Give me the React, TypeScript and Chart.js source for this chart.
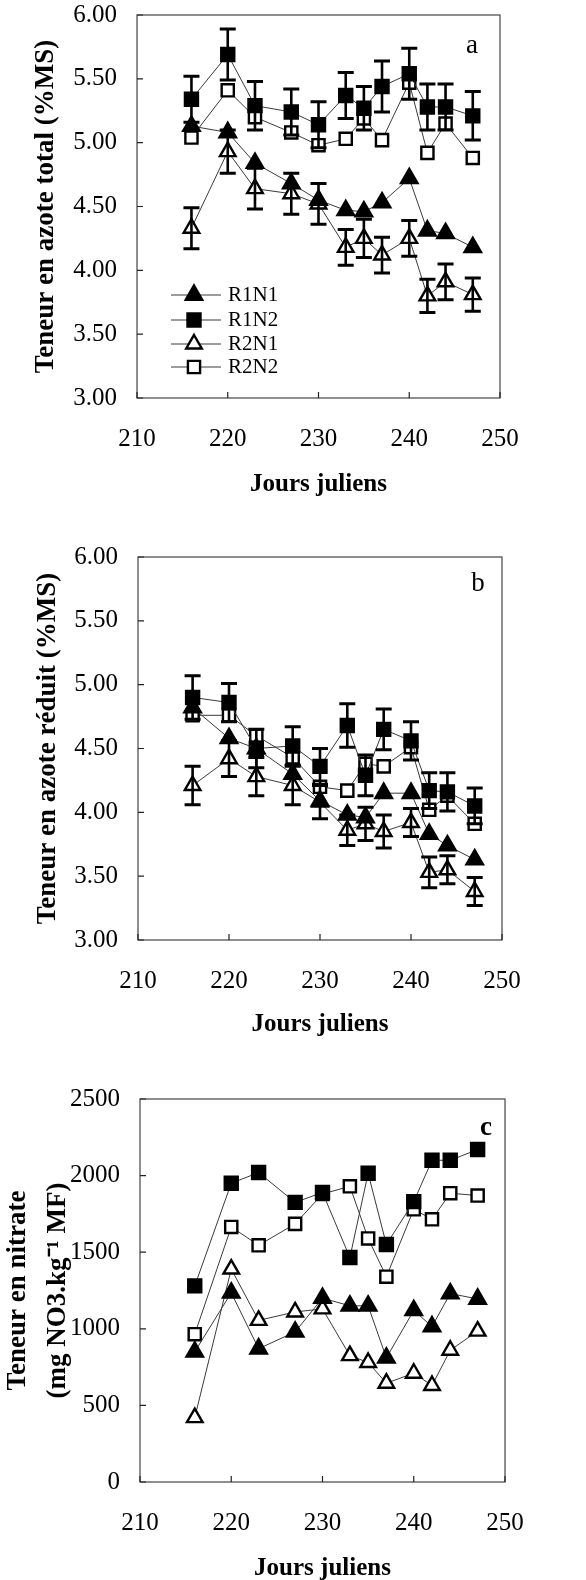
import React, { useEffect, useRef } from "react";
import { Chart, registerables } from "chart.js";
import { drawPoint } from "chart.js/helpers";

Chart.register(...registerables);

const FONT = "'Liberation Serif', 'Times New Roman', serif";

// ---------- DATA ----------
const days = [216, 220, 223, 227, 230, 233, 235, 237, 240, 242, 244, 247];
const seriesNames = ["R1N1", "R1N2", "R2N1", "R2N2"];
const xTickValues = [210, 220, 230, 240, 250];

// Panel a : Teneur en azote total (%MS)
const aR1N1 = [5.13, 5.08, 4.84, 4.68, 4.55, 4.47, 4.46, 4.53, 4.72, 4.31, 4.29, 4.18];
const aR1N2 = [5.34, 5.69, 5.29, 5.24, 5.14, 5.37, 5.27, 5.44, 5.54, 5.28, 5.28, 5.21];
const aR2N1 = [4.33, 4.93, 4.64, 4.6, 4.52, 4.18, 4.25, 4.12, 4.25, 3.8, 3.91, 3.81];
const aR2N2 = [5.04, 5.41, 5.2, 5.08, 4.98, 5.03, 5.19, 5.02, 5.47, 4.92, 5.15, 4.88];
const aErrR1N2 = [0.18, 0.2, 0.19, 0.18, 0.18, 0.18, 0.17, 0.2, 0.2, 0.18, 0.18, 0.19];
const aErrR2N1 = [0.16, 0.17, 0.16, 0.16, 0.16, 0.14, 0.15, 0.14, 0.14, 0.13, 0.14, 0.13];

// Panel b : Teneur en azote réduit (%MS)
const bR1N1 = [4.82, 4.58, 4.5, 4.3, 4.09, 3.98, 3.96, 4.15, 4.15, 3.83, 3.74, 3.63];
const bR1N2 = [4.9, 4.86, 4.5, 4.52, 4.36, 4.68, 4.29, 4.65, 4.56, 4.17, 4.16, 4.05];
const bR2N1 = [4.21, 4.42, 4.28, 4.21, 4.08, 3.86, 3.91, 3.85, 3.92, 3.53, 3.55, 3.38];
const bR2N2 = [4.76, 4.76, 4.6, 4.43, 4.2, 4.17, 4.38, 4.36, 4.51, 4.02, 4.13, 3.91];
const bErrR1N2 = [0.17, 0.15, 0.15, 0.15, 0.14, 0.17, 0.16, 0.16, 0.15, 0.14, 0.15, 0.14];
const bErrR2N1 = [0.15, 0.14, 0.15, 0.15, 0.13, 0.12, 0.13, 0.13, 0.11, 0.12, 0.11, 0.11];

// Panel c : Teneur en nitrate (mg NO3.kg-1 MF)
const cR1N1 = [850, 1235, 870, 980, 1200, 1150, 1150, 810, 1120, 1015, 1230, 1195];
const cR1N2 = [1280, 1950, 2020, 1825, 1890, 1465, 2015, 1550, 1830, 2100, 2100, 2170];
const cR2N1 = [420, 1390, 1055, 1110, 1130, 825, 780, 645, 710, 630, 860, 985];
const cR2N2 = [965, 1665, 1545, 1685, 1880, 1930, 1590, 1340, 1780, 1715, 1885, 1870];

// ---------- STYLES ----------
type MarkerStyle = { pointStyle: string; radius: number; fill: string };
const markerStyles: MarkerStyle[] = [
  { pointStyle: "triangle", radius: 9.5, fill: "#000" },
  { pointStyle: "rect", radius: 9.2, fill: "#000" },
  { pointStyle: "triangle", radius: 9, fill: "#fff" },
  { pointStyle: "rect", radius: 8.6, fill: "#fff" },
];

type PanelCfg = {
  canvasTop: number;
  canvasH: number;
  plotTop: number;
  plotBottom: number;
  plotLeft: number;
  plotRight: number;
  yMin: number;
  yMax: number;
  yStep: number;
  yDecimals: number;
  yTitle: string | string[];
  yTitleLH: number;
  yTitleCenter: number;
  xTitleY: number;
  letter: string;
  letterBold: boolean;
  letterX: number;
  letterY: number;
  series: number[][];
  errors: { idx: number; err: number[] }[];
  legend: boolean;
};

const panels: PanelCfg[] = [
  {
    canvasTop: 0,
    canvasH: 520,
    plotTop: 15,
    plotBottom: 398,
    plotLeft: 137,
    plotRight: 500,
    yMin: 3,
    yMax: 6,
    yStep: 0.5,
    yDecimals: 2,
    yTitle: "Teneur en azote total (%MS)",
    yTitleLH: 1.2,
    yTitleCenter: 46,
    xTitleY: 485,
    letter: "a",
    letterBold: false,
    letterX: 472,
    letterY: 46,
    series: [aR1N1, aR1N2, aR2N1, aR2N2],
    errors: [
      { idx: 1, err: aErrR1N2 },
      { idx: 2, err: aErrR2N1 },
    ],
    legend: true,
  },
  {
    canvasTop: 520,
    canvasH: 530,
    plotTop: 557,
    plotBottom: 940,
    plotLeft: 138,
    plotRight: 502,
    yMin: 3,
    yMax: 6,
    yStep: 0.5,
    yDecimals: 2,
    yTitle: "Teneur en azote réduit (%MS)",
    yTitleLH: 1.2,
    yTitleCenter: 48,
    xTitleY: 1025,
    letter: "b",
    letterBold: false,
    letterX: 478,
    letterY: 584,
    series: [bR1N1, bR1N2, bR2N1, bR2N2],
    errors: [
      { idx: 1, err: bErrR1N2 },
      { idx: 2, err: bErrR2N1 },
    ],
    legend: false,
  },
  {
    canvasTop: 1050,
    canvasH: 530,
    plotTop: 1099,
    plotBottom: 1482,
    plotLeft: 140,
    plotRight: 505,
    yMin: 0,
    yMax: 2500,
    yStep: 500,
    yDecimals: 0,
    yTitle: ["Teneur en nitrate", "(mg NO3.kg\u207B\u00B9 MF)"],
    yTitleLH: 1.5,
    yTitleCenter: 18,
    xTitleY: 1569,
    letter: "c",
    letterBold: true,
    letterX: 486,
    letterY: 1128,
    series: [cR1N1, cR1N2, cR2N1, cR2N2],
    errors: [],
    legend: false,
  },
];

const W = 586;
const TICK_FONT = 25;
const TITLE_FONT = 25;
const Y_TITLE_FONT = 27;

function Panel({ cfg }: { cfg: PanelCfg }) {
  const ref = useRef<HTMLCanvasElement>(null);

  useEffect(() => {
    const canvas = ref.current;
    if (!canvas) return;

    const datasets = cfg.series.map((vals, si) => {
      const st = markerStyles[si];
      return {
        label: seriesNames[si],
        data: days.map((d, i) => ({ x: d, y: vals[i] })),
        borderColor: "#3a3a3a",
        borderWidth: 1,
        pointStyle: st.pointStyle,
        pointRadius: st.radius,
        pointHoverRadius: st.radius,
        pointBackgroundColor: st.fill,
        pointBorderColor: "#000",
        pointBorderWidth: 2.4,
        fill: false,
        tension: 0,
      };
    });

    const xAxisH = cfg.canvasTop + cfg.canvasH - cfg.plotBottom;
    const xTitleOffsetFromBottom = cfg.canvasTop + cfg.canvasH - cfg.xTitleY;
    const titleLH = TITLE_FONT * 1.2;

    const zeroPad = (scale: any) => {
      scale.paddingTop = 0;
      scale.paddingBottom = 0;
      scale.paddingLeft = 0;
      scale.paddingRight = 0;
    };

    const decorPlugin = {
      id: "decor" + cfg.letter,
      afterDatasetsDraw(chart: any) {
        const ctx = chart.ctx;
        const xs = chart.scales.x;
        const ys = chart.scales.y;
        ctx.save();
        ctx.strokeStyle = "#000";
        cfg.errors.forEach(({ idx, err }) => {
          const vals = cfg.series[idx];
          days.forEach((d, i) => {
            const e = err[i];
            if (!e) return;
            const px = xs.getPixelForValue(d);
            const yTop = ys.getPixelForValue(vals[i] + e);
            const yBot = ys.getPixelForValue(vals[i] - e);
            ctx.lineWidth = 2.6;
            ctx.beginPath();
            ctx.moveTo(px, yTop);
            ctx.lineTo(px, yBot);
            ctx.stroke();
            ctx.lineWidth = 3;
            ctx.beginPath();
            ctx.moveTo(px - 8, yTop);
            ctx.lineTo(px + 8, yTop);
            ctx.moveTo(px - 8, yBot);
            ctx.lineTo(px + 8, yBot);
            ctx.stroke();
          });
        });
        ctx.restore();
      },
      afterDraw(chart: any) {
        const ctx = chart.ctx;
        const area = chart.chartArea;
        const xs = chart.scales.x;
        const ys = chart.scales.y;
        ctx.save();
        ctx.strokeStyle = "#444";
        ctx.lineWidth = 1.2;
        ctx.strokeRect(area.left, area.top, area.right - area.left, area.bottom - area.top);
        ctx.strokeStyle = "#222";
        ctx.lineWidth = 1.2;
        ctx.beginPath();
        ys.ticks.forEach((t: any) => {
          const py = ys.getPixelForValue(t.value);
          ctx.moveTo(area.left, py);
          ctx.lineTo(area.left + 6, py);
        });
        xs.ticks.forEach((t: any) => {
          const px = xs.getPixelForValue(t.value);
          ctx.moveTo(px, area.bottom);
          ctx.lineTo(px, area.bottom - 6);
        });
        ctx.stroke();
        ctx.fillStyle = "#000";
        ctx.font = (cfg.letterBold ? "bold " : "") + "27px " + FONT;
        ctx.textAlign = "center";
        ctx.textBaseline = "middle";
        ctx.fillText(cfg.letter, cfg.letterX, cfg.letterY - cfg.canvasTop);
        if (cfg.legend) {
          const rows = [295, 320, 344, 367];
          seriesNames.forEach((name, si) => {
            const y = rows[si] - cfg.canvasTop;
            ctx.strokeStyle = "#3a3a3a";
            ctx.lineWidth = 1;
            ctx.beginPath();
            ctx.moveTo(171, y);
            ctx.lineTo(221, y);
            ctx.stroke();
            const st = markerStyles[si];
            ctx.fillStyle = st.fill;
            ctx.strokeStyle = "#000";
            ctx.lineWidth = 2.4;
            drawPoint(ctx, { pointStyle: st.pointStyle as any, radius: st.radius, rotation: 0, borderWidth: 2.4 }, 194, y);
            ctx.fillStyle = "#000";
            ctx.font = "21px " + FONT;
            ctx.textAlign = "left";
            ctx.textBaseline = "middle";
            ctx.fillText(name, 228, y);
          });
        }
        ctx.restore();
      },
    };

    const chart = new Chart(canvas, {
      type: "line",
      data: { datasets: datasets as any },
      options: {
        animation: false,
        responsive: false,
        maintainAspectRatio: false,
        events: [],
        layout: {
          padding: {
            top: cfg.plotTop - cfg.canvasTop,
            right: W - cfg.plotRight,
            left: 0,
            bottom: 0,
          },
        },
        plugins: {
          legend: { display: false },
          tooltip: { enabled: false },
        },
        scales: {
          x: {
            type: "linear",
            min: 210,
            max: 250,
            afterFit: (scale: any) => {
              scale.height = xAxisH;
              zeroPad(scale);
            },
            afterBuildTicks: (scale: any) => {
              scale.ticks = xTickValues.map((v) => ({ value: v }));
            },
            grid: { display: false, drawTicks: false },
            border: { display: false },
            ticks: {
              color: "#000",
              font: { family: FONT, size: TICK_FONT },
              padding: 26,
              maxRotation: 0,
              autoSkip: false,
            },
            title: {
              display: true,
              text: "Jours juliens",
              color: "#000",
              font: { family: FONT, size: TITLE_FONT, weight: "bold", lineHeight: 1.2 },
              padding: { top: 0, bottom: xTitleOffsetFromBottom - titleLH / 2 },
            },
          },
          y: {
            type: "linear",
            min: cfg.yMin,
            max: cfg.yMax,
            afterFit: (scale: any) => {
              scale.width = cfg.plotLeft;
              zeroPad(scale);
            },
            grid: { display: false, drawTicks: false },
            border: { display: false },
            ticks: {
              stepSize: cfg.yStep,
              color: "#000",
              font: { family: FONT, size: TICK_FONT },
              padding: 20,
              callback: (v: any) => Number(v).toFixed(cfg.yDecimals),
            },
            title: {
              display: true,
              text: cfg.yTitle,
              color: "#000",
              font: { family: FONT, size: Y_TITLE_FONT, weight: "bold", lineHeight: cfg.yTitleLH },
              padding: { top: cfg.yTitleCenter - (Y_TITLE_FONT * cfg.yTitleLH) / 2, bottom: 0 },
            },
          },
        },
      } as any,
      plugins: [decorPlugin],
    });

    return () => chart.destroy();
  }, [cfg]);

  return (
    <div style={{ position: "absolute", left: 0, top: cfg.canvasTop, width: W, height: cfg.canvasH }}>
      <canvas ref={ref} width={W} height={cfg.canvasH} style={{ display: "block" }} />
    </div>
  );
}

export default function App() {
  return (
    <div style={{ position: "absolute", left: 0, top: 0, width: W, height: 1580, background: "#fff" }}>
      {panels.map((p) => (
        <Panel key={p.letter} cfg={p} />
      ))}
    </div>
  );
}
